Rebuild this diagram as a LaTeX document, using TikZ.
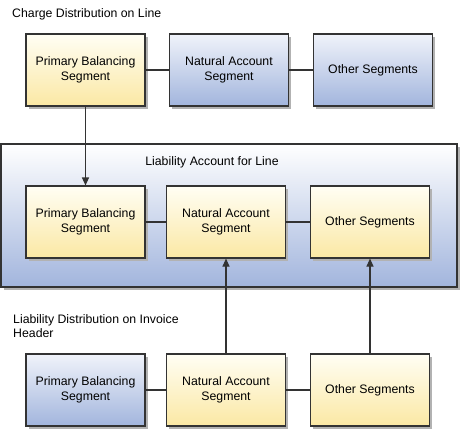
\documentclass[tikz,border=0pt]{standalone}
\usepackage{fontspec}
\setmainfont{Liberation Sans}
\usetikzlibrary{shadows,arrows.meta}
\definecolor{ylwtop}{HTML}{FFFEF4}
\definecolor{ylwbot}{HTML}{FBE8A4}
\definecolor{blutop}{HTML}{F0F3FA}
\definecolor{blubot}{HTML}{A2B5DD}
\definecolor{edgegray}{HTML}{333333}
\tikzset{
  segment/.style={
    draw=edgegray,
    line width=1.1pt,
    minimum width=119pt,
    minimum height=72pt,
    align=center,
    inner sep=0pt,
    drop shadow={shadow xshift=2.5pt,shadow yshift=-2.5pt,fill=black!30,opacity=1}
  },
  yellowseg/.style={
    segment,
    top color=ylwtop,
    bottom color=ylwbot
  },
  blueseg/.style={
    segment,
    top color=blutop,
    bottom color=blubot
  },
  caption/.style={
    inner sep=0pt,
    align=left
  },
  link/.style={
    draw=edgegray,
    line width=1.1pt
  },
  every picture/.style={
    x=1pt,
    y=1pt,
    font=\fontsize{12.3}{14.5}\selectfont
  }
}
\begin{document}
\begin{tikzpicture}
  \useasboundingbox (0,0) rectangle (462,-431);
  % charge distribution on line
  \node[caption,anchor=west] (chargetitle) at (12,-14) {Charge Distribution on Line};
  \node[yellowseg] (chargeprimary) at (85.5,-70) {Primary Balancing\\Segment};
  \node[blueseg] (chargenatural) at (229,-70) {Natural Account\\Segment};
  \node[blueseg] (chargeother) at (373,-70) {Other Segments};
  \draw[link] (chargeprimary) -- (chargenatural);
  \draw[link] (chargenatural) -- (chargeother);
  % liability account for line
  \node[segment,top color=white,bottom color=blubot,minimum width=456pt,minimum height=143pt] (account) at (229,-215.5) {};
  \node[caption] (accounttitle) at (212,-162) {Liability Account for Line};
  \node[yellowseg] (accountprimary) at (85.5,-222) {Primary Balancing\\Segment};
  \node[yellowseg] (accountnatural) at (226,-222) {Natural Account\\Segment};
  \node[yellowseg] (accountother) at (370,-222) {Other Segments};
  \draw[link] (accountprimary) -- (accountnatural);
  \draw[link] (accountnatural) -- (accountother);
  % liability distribution on invoice header
  \node[caption,anchor=west] (headertitle) at (13,-326) {Liability Distribution on Invoice\\Header};
  \node[blueseg] (headerprimary) at (85.5,-390) {Primary Balancing\\Segment};
  \node[yellowseg] (headernatural) at (226,-390) {Natural Account\\Segment};
  \node[yellowseg] (headerother) at (370,-390) {Other Segments};
  \draw[link] (headerprimary) -- (headernatural);
  \draw[link] (headernatural) -- (headerother);
  % arrows
  \draw[link,-{Triangle[length=8pt,width=7pt]}] (chargeprimary) -- (accountprimary);
  \draw[link,-{Triangle[length=8pt,width=7pt]}] (headernatural) -- (accountnatural);
  \draw[link,-{Triangle[length=8pt,width=7pt]}] (headerother) -- (accountother);
\end{tikzpicture}
\end{document}
